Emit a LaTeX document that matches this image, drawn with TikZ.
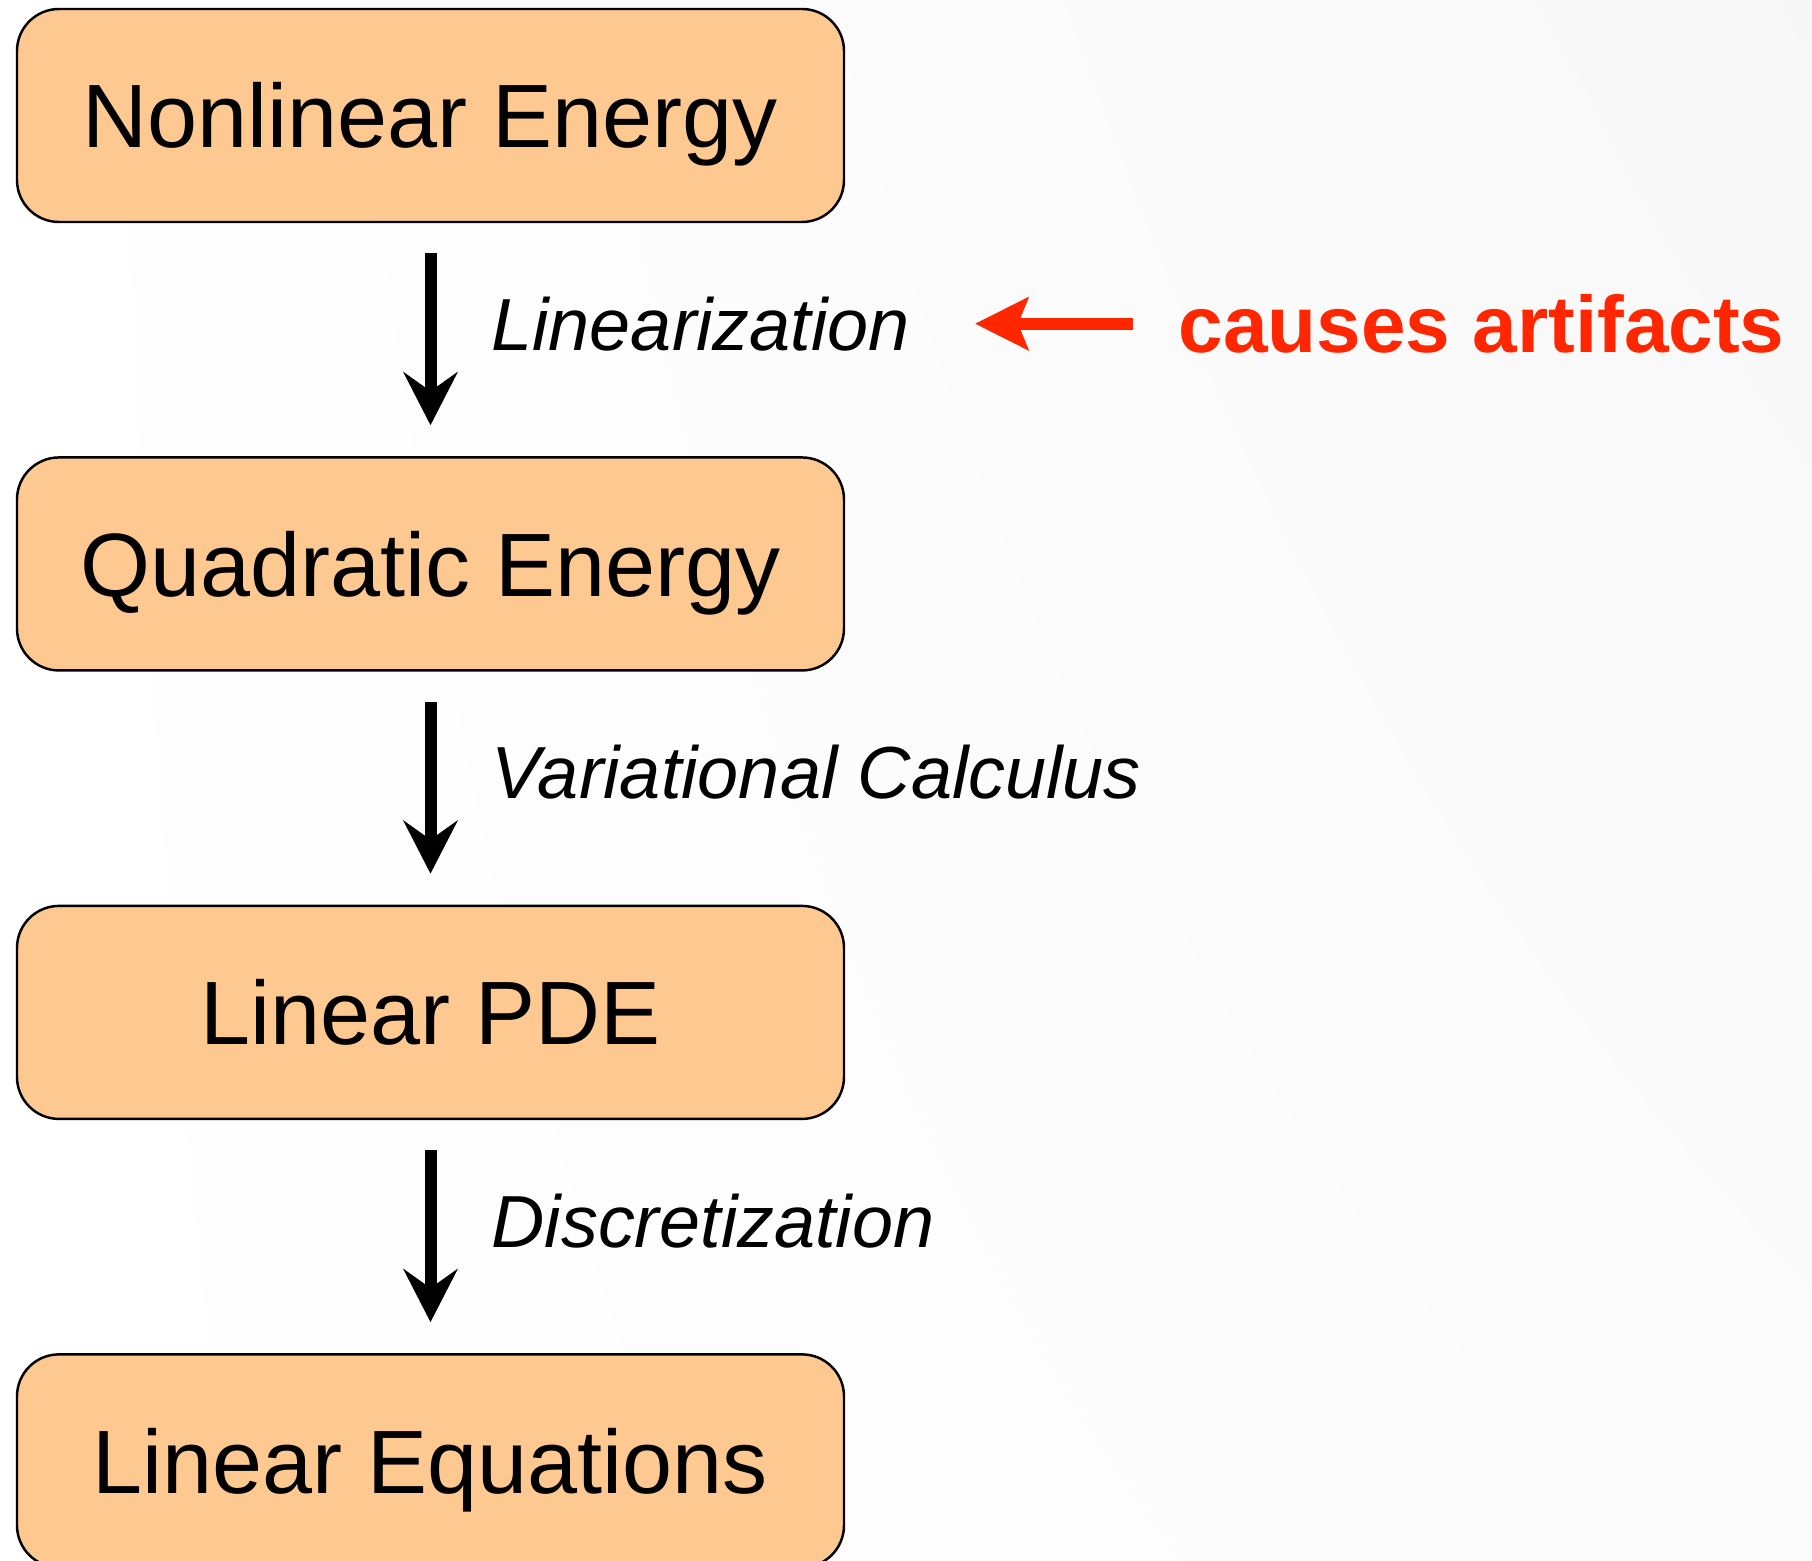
\documentclass[tikz,border=0pt]{standalone}
\usepackage{fontspec}
\setmainfont{Liberation Sans}
\usepackage{tikz}
\usetikzlibrary{arrows.meta, positioning, shadings}
\definecolor{peach}{HTML}{FEC991}
\definecolor{alertred}{HTML}{FF2600}
\tikzstyle{stage} = [rectangle, draw, line width=0.7pt, fill=peach, rounded corners=0.42cm,
  minimum width=8.27cm, minimum height=2.13cm, inner sep=0pt,
  text height=18.3pt, text depth=0pt, font=\fontsize{25.6}{30}\selectfont]
\tikzstyle{flow} = [line width=0.12cm, -{Stealth[length=0.53cm, width=0.54cm, inset=0.19cm]},
  shorten <=0.3cm, shorten >=0.31cm]
\tikzstyle{steplabel} = [inner sep=0pt, text height=15pt, text depth=0pt,
  font=\itshape\fontsize{21}{25}\selectfont]
\tikzstyle{note} = [inner sep=0pt, text height=16.3pt, text depth=0pt, text=alertred,
  font=\bfseries\fontsize{22.8}{27}\selectfont]
\tikzstyle{warn} = [alertred, line width=0.12cm, -{Stealth[length=0.53cm, width=0.52cm, inset=0.1cm]},
  shorten <=0.45cm, shorten >=0.59cm]

\begin{document}
\begin{tikzpicture}
    \useasboundingbox (0,0) rectangle (18.12,15.61);
    \shade[upper left=white, upper right=black!3, lower left=white, lower right=black!1.5]
      (0,0) rectangle (18.12,15.61);
    \node[stage] (nonlin) at (4.305,14.455) {Nonlinear Energy};
    \node[stage, below=2.33cm of nonlin] (quad) {Quadratic Energy};
    \node[stage, below=2.33cm of quad] (pde) {Linear PDE};
    \node[stage, below=2.33cm of pde] (eqs) {Linear Equations};
    \draw[flow] (nonlin) -- node[steplabel, midway, right=0.55cm, yshift=0.16cm] (lin) {Linearization} (quad);
    \draw[flow] (quad) -- node[steplabel, midway, right=0.55cm, yshift=0.16cm] (var) {Variational Calculus} (pde);
    \draw[flow] (pde) -- node[steplabel, midway, right=0.55cm, yshift=0.16cm] (disc) {Discretization} (eqs);
    \node[note, right=2.62cm of lin] (note) {causes artifacts};
    \draw[warn] (note.west) -- (note.west -| lin.east);
  \end{tikzpicture}
\end{document}
